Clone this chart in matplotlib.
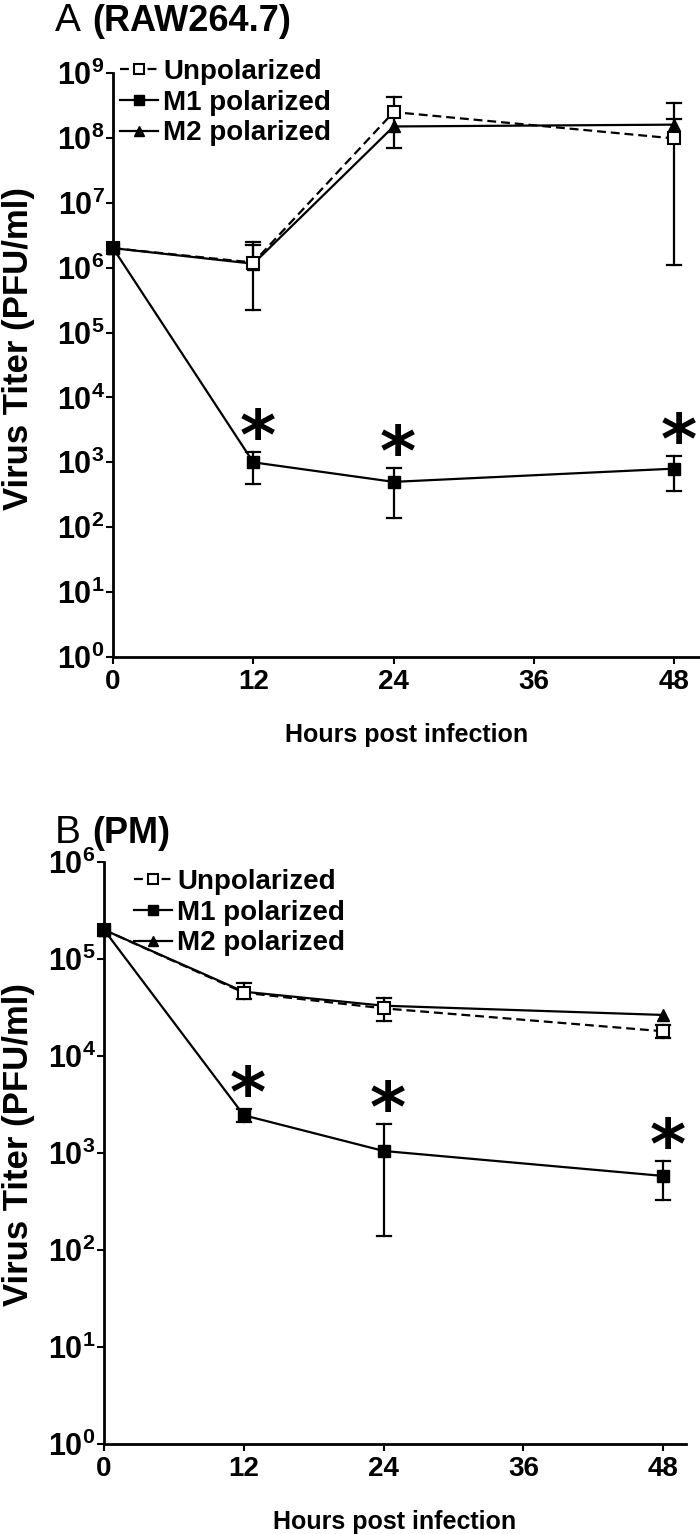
import numpy as np
import matplotlib
matplotlib.use("Agg")
import matplotlib.pyplot as plt
from matplotlib import font_manager as fm

# ---------------- data ----------------
hours = [0, 12, 24, 48]
sig_hours = [12, 24, 48]

# Panel A (RAW264.7)
unpol_A = [2.0e6, 1.2e6, 2.5e8, 9.8e7]
unpol_A_lo = [np.nan, 2.2e5, 7.0e7, 1.1e6]
unpol_A_hi = [np.nan, 2.2e6, 4.3e8, 1.95e8]
m1_A = [2.0e6, 1.0e3, 5.0e2, 8.0e2]
m1_A_lo = [np.nan, 4.6e2, 1.4e2, 3.6e2]
m1_A_hi = [np.nan, 1.45e3, 8.2e2, 1.25e3]
m2_A = [2.0e6, 1.15e6, 1.5e8, 1.6e8]
m2_A_lo = [np.nan, np.nan, np.nan, np.nan]
m2_A_hi = [np.nan, 2.5e6, np.nan, 3.5e8]

# Panel B (PM)
unpol_B = [2.0e5, 4.5e4, 3.1e4, 1.8e4]
unpol_B_lo = [np.nan, 3.9e4, 2.3e4, 1.55e4]
unpol_B_hi = [np.nan, 5.6e4, 4.0e4, 2.1e4]
m1_B = [2.0e5, 2.45e3, 1.05e3, 5.8e2]
m1_B_lo = [np.nan, 2.1e3, 1.4e2, 3.3e2]
m1_B_hi = [np.nan, 2.85e3, 2.0e3, 8.3e2]
m2_B = [2.0e5, 4.6e4, 3.3e4, 2.65e4]
m2_B_lo = [np.nan, np.nan, np.nan, np.nan]
m2_B_hi = [np.nan, np.nan, np.nan, np.nan]

series_names = ["Unpolarized", "M1 polarized", "M2 polarized"]
xticks = [0, 12, 24, 36, 48]
xlabel = "Hours post infection"
ylabel = "Virus Titer (PFU/ml)"
titleA = ("A", "(RAW264.7)")
titleB = ("B", "(PM)")

# ---------------- fonts ----------------
avail = {f.name for f in fm.fontManager.ttflist}
narrow = "Liberation Sans Narrow" if "Liberation Sans Narrow" in avail else "Liberation Sans"
plt.rcParams['font.family'] = [narrow, 'DejaVu Sans']
plt.rcParams['mathtext.fontset'] = 'custom'
plt.rcParams['mathtext.rm'] = narrow
plt.rcParams['mathtext.bf'] = narrow + ':bold'
plt.rcParams['mathtext.it'] = narrow + ':italic'

W, H = 700, 1534
fig = plt.figure(figsize=(W / 100, H / 100), dpi=100)


def add_ax(l, r, t, b):
    return fig.add_axes([l / W, 1 - b / H, (r - l) / W, (b - t) / H])


def draw_panel(ax, xmax, ymax_exp, data, legend_xy, title, title_base, ylab_y):
    ax.set_yscale('log')
    ax.set_xlim(0, xmax)
    ax.set_ylim(1, 10 ** ymax_exp)
    for s in ['top', 'right']:
        ax.spines[s].set_visible(False)
    for s in ['left', 'bottom']:
        ax.spines[s].set_linewidth(2.0)
    ax.set_xticks(xticks)
    ax.set_xticklabels([str(v) for v in xticks], fontsize=20, fontweight='bold')
    yt = [10 ** k for k in range(0, ymax_exp + 1)]
    ax.set_yticks(yt)
    ax.set_yticklabels([r'$\mathbf{10^{%d}}$' % k for k in range(0, ymax_exp + 1)], fontsize=22)
    ax.yaxis.set_minor_locator(matplotlib.ticker.NullLocator())
    ax.tick_params(axis='both', direction='out', length=5, width=1.5)
    ax.tick_params(axis='y', pad=1)
    ax.tick_params(axis='x', pad=4)

    styles = {
        "Unpolarized": dict(ls=(0, (4, 2.2)), marker='s', mfc='white', mec='black', ms=8.5, mew=1.5),
        "M1 polarized": dict(ls='-', marker='s', mfc='black', mec='black', ms=8.5, mew=1.0),
        "M2 polarized": dict(ls='-', marker='^', mfc='black', mec='black', ms=8.5, mew=1.0),
    }
    handles = {}
    for name in ["M2 polarized", "Unpolarized", "M1 polarized"]:
        y, lo, hi = data[name]
        y = np.array(y, float)
        lo = np.array(lo, float)
        hi = np.array(hi, float)
        st = styles[name]
        for xi, yi, l, h in zip(hours, y, lo, hi):
            for e in (l, h):
                if not np.isnan(e):
                    ax.plot([xi, xi], [yi, e], color='black', lw=1.6, clip_on=False, zorder=2)
                    ax.plot([xi - 0.6, xi + 0.6], [e, e], color='black', lw=1.6,
                            clip_on=False, zorder=2)
        ln, = ax.plot(hours, y, color='black', lw=1.6, clip_on=False, zorder=3, **st)
        handles[name] = ln

    # significance stars above M1 upper error bar
    y, lo, hi = data["M1 polarized"]
    for xs in sig_hours:
        i = hours.index(xs)
        ax.annotate('*', xy=(xs, hi[i]), xytext=(3, -15), textcoords='offset points',
                    ha='center', va='bottom', fontsize=50, fontweight='bold',
                    family='DejaVu Sans', annotation_clip=False)

    ax.legend([handles[n] for n in series_names], series_names,
              loc='upper left', bbox_to_anchor=legend_xy, frameon=False,
              prop={'weight': 'bold', 'size': 20, 'family': narrow},
              handlelength=1.35, handletextpad=0.2, labelspacing=0.17,
              borderaxespad=0, borderpad=0, markerscale=0.85)

    ax.set_xlabel(xlabel, fontsize=18, fontweight='bold', labelpad=20)
    fig.text(19 / W, 1 - ylab_y / H, ylabel, rotation=90, fontsize=25, fontweight='bold',
             ha='center', va='center')
    tx, ty = title_base
    fig.text(tx / W, 1 - ty / H, title[0], fontsize=28, ha='left', va='baseline',
             family='Liberation Sans')
    fig.text((tx + 37) / W, 1 - ty / H, title[1], fontsize=26, fontweight='bold',
             ha='left', va='baseline')


axA = add_ax(113, 700, 73, 657)
draw_panel(axA, 50.2, 9,
           {"Unpolarized": (unpol_A, unpol_A_lo, unpol_A_hi),
            "M1 polarized": (m1_A, m1_A_lo, m1_A_hi),
            "M2 polarized": (m2_A, m2_A_lo, m2_A_hi)},
           (0.012, 1.024), titleA, (55, 31), 348)

axB = add_ax(104, 686, 862, 1444)
draw_panel(axB, 49.96, 6,
           {"Unpolarized": (unpol_B, unpol_B_lo, unpol_B_hi),
            "M1 polarized": (m1_B, m1_B_lo, m1_B_hi),
            "M2 polarized": (m2_B, m2_B_lo, m2_B_hi)},
           (0.052, 0.988), titleB, (55, 843), 1145)

fig.savefig("out.png", dpi=100)
